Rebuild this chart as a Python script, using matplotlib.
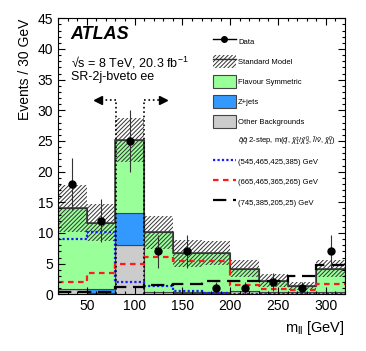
import numpy as np
import matplotlib
matplotlib.use("Agg")
import matplotlib.pyplot as plt
from matplotlib.patches import Patch
from matplotlib.lines import Line2D

plt.rcParams['font.family'] = ['Liberation Sans', 'DejaVu Sans']
plt.rcParams['mathtext.fontset'] = 'custom'
plt.rcParams['mathtext.rm'] = 'Liberation Sans'
plt.rcParams['mathtext.it'] = 'Liberation Sans:italic'
plt.rcParams['mathtext.bf'] = 'Liberation Sans:bold'
plt.rcParams['hatch.linewidth'] = 0.7

# ---- data ----
bin_edges = np.arange(20, 321, 30)
data = np.array([18, 12, 25, 7, 7, 1, 1, 2, 1, 7])
other_bkg = np.array([0.8, 0.2, 8.0, 0.3, 0.2, 0.2, 0.5, 0.3, 0.3, 0.3])
zjets = np.array([0.1, 0.7, 5.2, 0.1, 0.1, 0.1, 0.1, 0.1, 0.1, 0.1])
flav_sym = np.array([13.1, 10.8, 11.9, 9.7, 6.4, 6.4, 3.6, 1.8, 0.9, 3.8])
sm_unc = np.array([3.8, 3.0, 3.6, 2.65, 2.2, 2.0, 1.4, 1.05, 0.65, 1.4])
sig_545 = np.array([9.0, 10.2, 2.0, 1.3, 0.5, 0.2, 0.1, 0.1, 0.1, 0.1])
sig_665 = np.array([2.0, 3.5, 4.9, 6.1, 5.5, 5.5, 1.5, 0.8, 0.7, 1.7])
sig_745 = np.array([0.3, 0.3, 1.2, 1.5, 1.7, 2.2, 2.2, 2.2, 3.0, 4.8])
sr_bounds = [81, 110]
arrow_y = 31.7
arrow_len = 18

c_fs = '#99FF99'
c_z = '#3399FF'
c_other = '#CCCCCC'
hatch = '////////'

fig = plt.figure(figsize=(3.66, 3.51), dpi=100)
ax = fig.add_axes([58/366, 1-294.3/351, 287/366, 276/351])

s1 = other_bkg
s2 = s1 + zjets
s3 = s2 + flav_sym
ax.stairs(s1, bin_edges, baseline=0, fill=True, facecolor=c_other, edgecolor='#444444', linewidth=0.8)
ax.stairs(s2, bin_edges, baseline=s1, fill=True, facecolor=c_z, edgecolor='#444444', linewidth=0.8)
ax.stairs(s3, bin_edges, baseline=s2, fill=True, facecolor=c_fs, edgecolor='#444444', linewidth=0.8)
ax.stairs(s3 + sm_unc, bin_edges, baseline=s3 - sm_unc, fill=True, facecolor='none',
          edgecolor='#333333', linewidth=0, hatch=hatch)
ax.stairs(s3, bin_edges, baseline=None, color='#333333', linewidth=1.1)

ax.stairs(sig_545, bin_edges, baseline=None, color='#1a1aff', linewidth=1.6, linestyle=(0, (1, 1)))
ax.stairs(sig_665, bin_edges, baseline=None, color='#ff1a1a', linewidth=1.6, linestyle=(0, (2.5, 2)))
ax.stairs(sig_745, bin_edges, baseline=None, color='black', linewidth=1.6, linestyle=(0, (6, 3)))

centers = 0.5 * (bin_edges[:-1] + bin_edges[1:])
ax.errorbar(centers, data, yerr=np.sqrt(data), fmt='o', color='black', ms=5,
            elinewidth=0.8, ecolor='#333333', capsize=0, zorder=10)

# signal region boundaries with arrows
for xb, d in zip(sr_bounds, [-1, 1]):
    ax.plot([xb, xb], [0, arrow_y], ':', color='black', lw=1.2)
    ax.plot([xb, xb + d * arrow_len], [arrow_y, arrow_y], ':', color='black', lw=1.2)
    ax.plot([xb + d * (arrow_len + 1.5)], [arrow_y], marker='<' if d < 0 else '>',
            color='black', ms=6, linestyle='none')

ax.set_xlim(20, 320)
ax.set_ylim(0, 45)
ax.set_xticks([50, 100, 150, 200, 250, 300])
ax.set_xticks(np.arange(20, 321, 10), minor=True)
ax.set_yticks(np.arange(0, 46, 5))
ax.set_yticks(np.arange(0, 46, 1), minor=True)
ax.tick_params(which='both', direction='in', top=True, right=True, labelsize=10)
ax.tick_params(which='major', length=5, width=0.8)
ax.tick_params(which='minor', length=2.5, width=0.8)

ax.set_ylabel('Events / 30 GeV', loc='top', fontsize=10)
ax.set_xlabel(r'm$_{\mathregular{ll}}$ [GeV]', loc='right', fontsize=10.5)

ax.text(0.042, 0.941, 'ATLAS', transform=ax.transAxes, fontsize=13, fontweight='bold',
        fontstyle='italic', va='center', ha='left')
ax.text(0.045, 0.84, '\u221As = 8 TeV, 20.3 fb$^{-1}$', transform=ax.transAxes, fontsize=9,
        va='center', ha='left')
ax.text(0.045, 0.789, 'SR-2j-bveto ee', transform=ax.transAxes, fontsize=9,
        va='center', ha='left')

handles = [
    Line2D([], [], color='black', marker='o', ms=4, lw=1),
    (Patch(facecolor='white', edgecolor='#333333', hatch=hatch, lw=0), Line2D([], [], color='#333333', lw=1)),
    Patch(facecolor=c_fs, edgecolor='#444444', lw=0.8),
    Patch(facecolor=c_z, edgecolor='#444444', lw=0.8),
    Patch(facecolor=c_other, edgecolor='#444444', lw=0.8),
    Line2D([], [], color='none'),
    Line2D([], [], color='#1a1aff', lw=1.6, linestyle=(0, (1, 1))),
    Line2D([], [], color='#ff1a1a', lw=1.6, linestyle=(0, (2.5, 2))),
    Line2D([], [], color='black', lw=1.6, linestyle=(0, (6, 3))),
]
labels = [
    'Data', 'Standard Model', 'Flavour Symmetric', 'Z+jets', 'Other Backgrounds',
    r'$\tilde{q}\tilde{q}$ 2-step, m($\tilde{q}$, $\tilde{\chi}_1^{\pm}/\tilde{\chi}_2^0$, $\tilde{l}/\tilde{\nu}$, $\tilde{\chi}_1^0$)',
    '(545,465,425,385) GeV', '(665,465,365,265) GeV', '(745,385,205,25) GeV',
]
fig.legend(handles, labels, loc='upper left', bbox_to_anchor=(213/366, 1-35/351),
           frameon=False, fontsize=5.5, handlelength=3.0, handleheight=2.2,
           handletextpad=0.3, labelspacing=0.95, borderpad=0, borderaxespad=0)

fig.savefig('out.png', dpi=100)
